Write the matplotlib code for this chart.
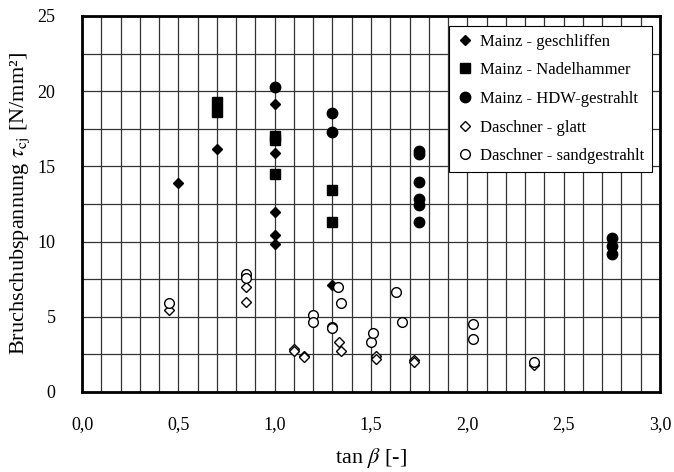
import numpy as np
import matplotlib
matplotlib.use("Agg")
import matplotlib.pyplot as plt
from matplotlib.ticker import FixedLocator

plt.rcParams['font.family'] = ['Liberation Serif', 'DejaVu Serif']
plt.rcParams['mathtext.fontset'] = 'stix'

# ---- data ----
gesch_x = [0.5, 0.7, 1.0, 1.0, 1.0, 1.0, 1.0, 1.3]
gesch_y = [13.9, 16.15, 19.15, 15.9, 11.95, 10.45, 9.85, 7.1]

nadel_x = [0.7, 0.7, 1.0, 1.0, 1.0, 1.3, 1.3]
nadel_y = [19.25, 18.6, 17.05, 16.75, 14.5, 13.4, 11.3]

hdw_x = [1.0, 1.3, 1.3, 1.75, 1.75, 1.75, 1.75, 1.75, 1.75, 2.75, 2.75, 2.75]
hdw_y = [20.3, 18.55, 17.3, 16.0, 15.8, 13.95, 12.8, 12.45, 11.3, 10.25, 9.7, 9.2]

glatt_x = [0.45, 0.85, 0.85, 1.1, 1.1, 1.15, 1.15, 1.335, 1.345, 1.525, 1.525, 1.725, 1.725, 2.345]
glatt_y = [5.45, 7.0, 6.0, 2.85, 2.75, 2.4, 2.3, 3.3, 2.75, 2.4, 2.2, 2.1, 2.0, 1.8]

sand_x = [0.45, 0.85, 0.85, 1.2, 1.2, 1.3, 1.3, 1.33, 1.345, 1.5, 1.51, 1.63, 1.66, 2.03, 2.03, 2.345]
sand_y = [5.95, 7.85, 7.55, 5.15, 4.65, 4.35, 4.25, 6.95, 5.95, 3.3, 3.95, 6.65, 4.65, 4.55, 3.55, 2.0]

labels = ["Mainz - geschliffen", "Mainz - Nadelhammer", "Mainz - HDW-gestrahlt",
          "Daschner - glatt", "Daschner - sandgestrahlt"]

x_ticks = [0.0, 0.5, 1.0, 1.5, 2.0, 2.5, 3.0]
x_ticklabels = ["0,0", "0,5", "1,0", "1,5", "2,0", "2,5", "3,0"]
y_ticks = [0, 5, 10, 15, 20, 25]

# ---- figure ----
fig = plt.figure(figsize=(6.74, 4.72), dpi=100)
ax = fig.add_axes([82/674, 1-392/472, (660-82)/674, (392-16)/472])

ax.set_xlim(0, 3.0)
ax.set_ylim(0, 25)
ax.set_xticks(x_ticks)
ax.set_xticklabels(x_ticklabels)
ax.set_yticks(y_ticks)
ax.xaxis.set_minor_locator(FixedLocator(np.arange(0, 3.001, 0.1)))
ax.yaxis.set_minor_locator(FixedLocator(np.arange(0, 25.001, 2.5)))
ax.grid(True, which='both', color='#333333', linewidth=0.9)
ax.set_axisbelow(True)
ax.tick_params(which='both', length=0, labelsize=13)
ax.tick_params(axis='x', pad=17)
ax.tick_params(axis='y', pad=19)
for s in ax.spines.values():
    s.set_linewidth(2.0)
    s.set_color('black')

ax.plot(gesch_x, gesch_y, 'D', ms=5.5, mfc='black', mec='black', ls='none', label=labels[0])
ax.plot(nadel_x, nadel_y, 's', ms=7, mfc='black', mec='black', ls='none', label=labels[1])
ax.plot(hdw_x, hdw_y, 'o', ms=7.5, mfc='black', mec='black', ls='none', label=labels[2])
ax.plot(glatt_x, glatt_y, 'D', ms=5, mfc='white', mec='black', mew=1.0, ls='none', label=labels[3])
ax.plot(sand_x, sand_y, 'o', ms=7, mfc='white', mec='black', mew=1.0, ls='none', label=labels[4])

ax.set_xlabel(r'tan $\beta$ [-]', fontsize=16, labelpad=10)
ax.set_ylabel(r'Bruchschubspannung $\tau_{\mathrm{cj}}$ [N/mm²]', fontsize=16, labelpad=4)

leg = ax.legend(loc='upper right', bbox_to_anchor=(0.986, 0.973), borderaxespad=0,
                fontsize=12, frameon=True, fancybox=False, framealpha=1,
                edgecolor='black', handlelength=1.0, handletextpad=0.4,
                labelspacing=0.76, borderpad=0.45, numpoints=1)
leg.get_frame().set_linewidth(0.8)

fig.savefig("out.png", dpi=100)
